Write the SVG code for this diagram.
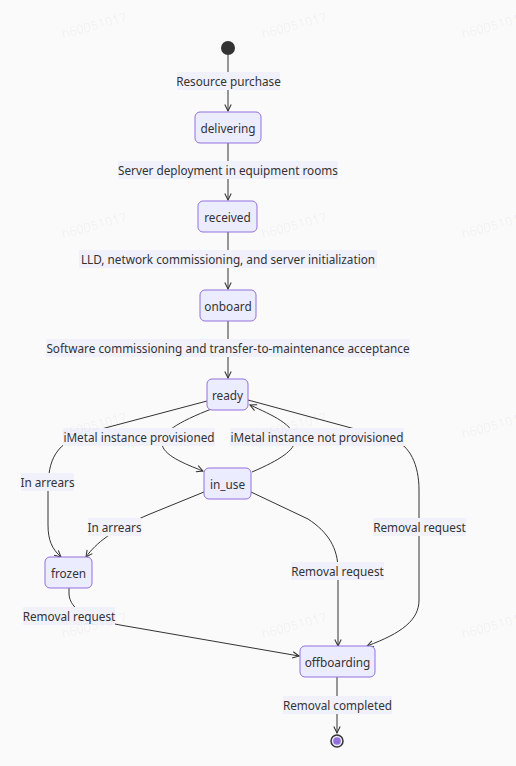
<svg xmlns="http://www.w3.org/2000/svg" width="516" height="766" viewBox="0 0 516 766">
<style>
.bg{fill:#fafafa}
.node rect{fill:#ECECFF;stroke:#9370DB;stroke-width:1}
.node text{font-family:"Noto Sans","DejaVu Sans",sans-serif;font-size:11.8px;fill:#333;text-anchor:middle;dominant-baseline:central}
.edge path{fill:none;stroke:#333;stroke-width:1}
.lbl rect{fill:#f1f1fc}
.lbl text{font-family:"Noto Sans","DejaVu Sans",sans-serif;font-size:11.75px;fill:#333;text-anchor:middle;dominant-baseline:central}
.wm text{font-family:"Noto Sans",sans-serif;font-size:13px;fill:#000;fill-opacity:0.05;text-anchor:middle;dominant-baseline:central}
</style>
<defs>
<marker id="arr" viewBox="0 0 10 10" refX="9" refY="5" markerWidth="8" markerHeight="8" orient="auto" markerUnits="userSpaceOnUse">
<path d="M1,1 L9,5 L1,9" fill="none" stroke="#333" stroke-width="1.3"/>
</marker>
</defs>
<rect class="bg" x="0" y="0" width="516" height="766"/>
<g id="connectors" class="edge">
<path d="M228,55 L228,111" marker-end="url(#arr)"/>
<path d="M228,143 L228,200" marker-end="url(#arr)"/>
<path d="M228,232 L228,289" marker-end="url(#arr)"/>
<path d="M228,321 L228,378" marker-end="url(#arr)"/>
<path d="M207,401 L90,432 C55,442 48,460 48,490 L48,525 C48,540 52,549 61,557" marker-end="url(#arr)"/>
<path d="M214,408 C175,423 162,433 162,443 C162,455 185,464 203,471" marker-end="url(#arr)"/>
<path d="M252,472 C280,460 295,450 295,440 C295,425 272,415 250,405" marker-end="url(#arr)"/>
<path d="M248,400 L392,439 C410,445 419,465 419,490 L419,600 C419,620 402,633 367,646" marker-end="url(#arr)"/>
<path d="M204,492 L150,514 C112,530 96,543 86,557" marker-end="url(#arr)"/>
<path d="M251,492 L308,519 C328,532 338,548 338,570 L338,646" marker-end="url(#arr)"/>
<path d="M69,588 L69,594 C70,610 88,619 120,625 L299,656" marker-end="url(#arr)"/>
<path d="M337,677 L337,733" marker-end="url(#arr)"/>
</g>
<g id="labels">
<g class="lbl"><rect x="177" y="72" width="103" height="18"/><text x="228.5" y="81">Resource purchase</text></g>
<g class="lbl"><rect x="118" y="161" width="220" height="18"/><text x="228" y="170">Server deployment in equipment rooms</text></g>
<g class="lbl"><rect x="79" y="250" width="298" height="18"/><text x="228" y="259">LLD, network commissioning, and server initialization</text></g>
<g class="lbl"><rect x="46" y="339" width="364" height="18"/><text x="228" y="348">Software commissioning and transfer-to-maintenance acceptance</text></g>
<g class="lbl"><rect x="63" y="428" width="152" height="18"/><text x="139" y="437">iMetal instance provisioned</text></g>
<g class="lbl"><rect x="230" y="428" width="174" height="18"/><text x="317" y="437">iMetal instance not provisioned</text></g>
<g class="lbl"><rect x="21" y="473" width="53" height="18"/><text x="47.5" y="482">In arrears</text></g>
<g class="lbl"><rect x="88" y="518" width="53" height="18"/><text x="114.5" y="527">In arrears</text></g>
<g class="lbl"><rect x="373" y="518" width="93" height="18"/><text x="419.5" y="527">Removal request</text></g>
<g class="lbl"><rect x="291" y="562" width="93" height="18"/><text x="337.5" y="571">Removal request</text></g>
<g class="lbl"><rect x="23" y="607" width="92" height="18"/><text x="69" y="616">Removal request</text></g>
<g class="lbl"><rect x="283" y="696" width="109" height="18"/><text x="337.5" y="705">Removal completed</text></g>
</g>
<g id="start"><circle cx="228" cy="48" r="7" fill="#333"/></g>
<g id="delivering" class="node"><rect x="195" y="112" width="66" height="31" rx="5"/><text x="228" y="127.5">delivering</text></g>
<g id="received" class="node"><rect x="198" y="201" width="59" height="31" rx="5"/><text x="227.5" y="216.5">received</text></g>
<g id="onboard" class="node"><rect x="200" y="290" width="56" height="31" rx="5"/><text x="228" y="305.5">onboard</text></g>
<g id="ready" class="node"><rect x="207" y="379" width="41" height="31" rx="5"/><text x="227.5" y="394.5">ready</text></g>
<g id="in_use" class="node"><rect x="204" y="468" width="47" height="31" rx="5"/><text x="227.5" y="483.5">in_use</text></g>
<g id="frozen" class="node"><rect x="45" y="557" width="47" height="31" rx="5"/><text x="68.5" y="572.5">frozen</text></g>
<g id="offboarding" class="node"><rect x="300" y="646" width="75" height="31" rx="5"/><text x="337.5" y="661.5">offboarding</text></g>
<g id="end"><circle cx="337" cy="741" r="6" fill="#ECECFF" stroke="#333" stroke-width="1.5"/><circle cx="337" cy="741" r="3.8" fill="#9370DB"/></g>
<g class="wm">
<text transform="translate(94,25) rotate(-15)">h60051017</text>
<text transform="translate(294,25) rotate(-15)">h60051017</text>
<text transform="translate(494,25) rotate(-15)">h60051017</text>
<text transform="translate(94,225) rotate(-15)">h60051017</text>
<text transform="translate(294,225) rotate(-15)">h60051017</text>
<text transform="translate(494,225) rotate(-15)">h60051017</text>
<text transform="translate(94,425) rotate(-15)">h60051017</text>
<text transform="translate(294,425) rotate(-15)">h60051017</text>
<text transform="translate(494,425) rotate(-15)">h60051017</text>
<text transform="translate(94,625) rotate(-15)">h60051017</text>
<text transform="translate(294,625) rotate(-15)">h60051017</text>
<text transform="translate(494,625) rotate(-15)">h60051017</text>
</g>
</svg>
